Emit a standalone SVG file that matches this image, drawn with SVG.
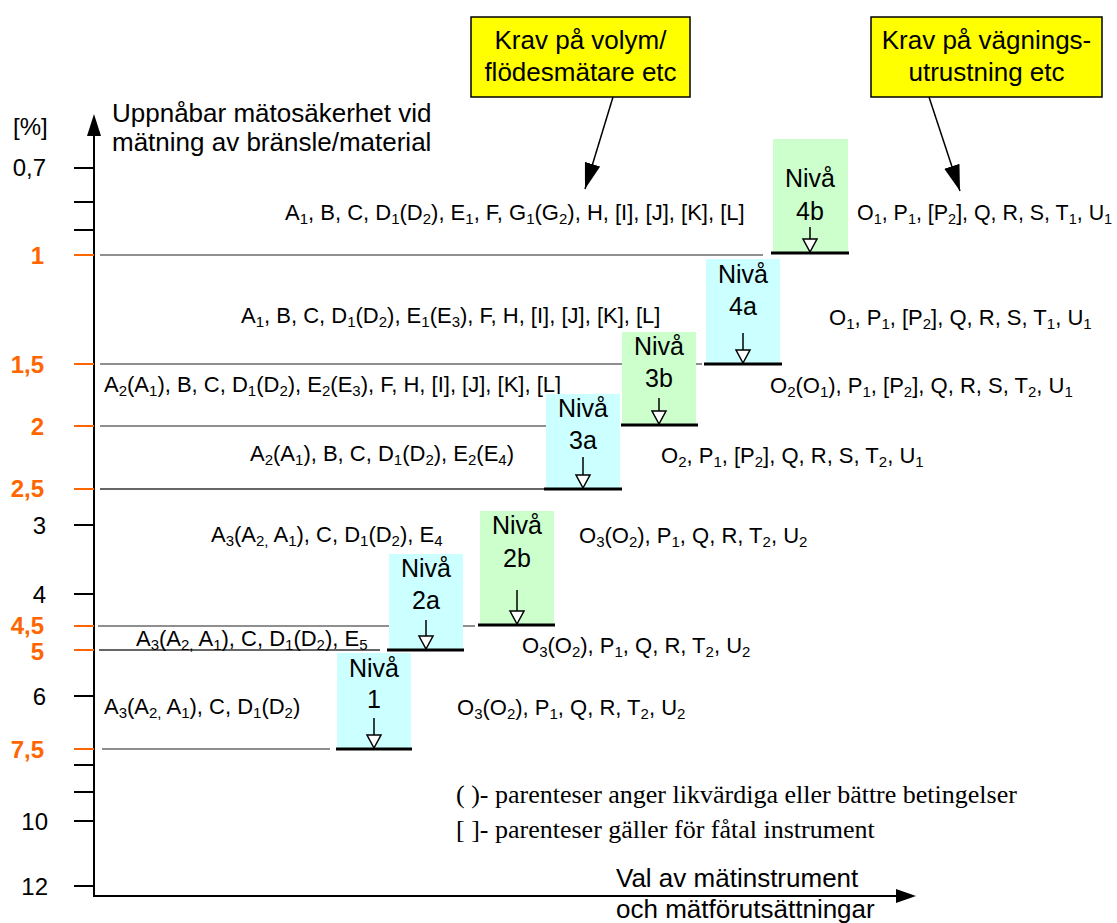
<svg xmlns="http://www.w3.org/2000/svg" width="1117" height="923" viewBox="0 0 1117 923">
<defs>
<style>
text{font-family:"Liberation Sans",Arial,sans-serif;fill:#000}
.t{font-size:26px}
.lbl{font-size:24px;text-anchor:end}
.or{fill:#FF6600;font-weight:bold}
.row{font-size:22px}
.s{font-size:15px;baseline-shift:-4px}
.niv{font-size:25px;text-anchor:middle}
.yb{font-size:26px;text-anchor:middle}
.leg{font-family:"Liberation Serif","Times New Roman",serif;font-size:26px}
.lvl{stroke:#6a6a6a;stroke-width:1.5}
.lvlk{stroke:#333;stroke-width:1.5}
.thick{stroke:#000;stroke-width:3}
.tick{stroke:#000;stroke-width:2}
.otick{stroke:#FF6600;stroke-width:2}
.cy{fill:#CCFFFF}
.gr{fill:#CCFFCC}
.ar{stroke:#000;stroke-width:1.5}
.tri{fill:#fff;stroke:#000;stroke-width:1.5}
.yel{fill:#FFFF00;stroke:#000;stroke-width:1.5}
</style>
<marker id="bh" markerWidth="26" markerHeight="16" refX="26" refY="8" orient="auto" markerUnits="userSpaceOnUse" viewBox="0 0 26 16">
<path d="M0,0 L26,8 L0,16 Z" fill="#000"/>
</marker>
</defs>
<rect width="1117" height="923" fill="#fff"/>

<g id="axes">
<line x1="94" y1="896" x2="94" y2="134" stroke="#000" stroke-width="2"/>
<path d="M94,114 L101,136 L87,136 Z" fill="#000"/>
<line x1="93" y1="896" x2="897" y2="896" stroke="#000" stroke-width="2"/>
<path d="M916,896 L896,889 L896,903 Z" fill="#000"/>
<line class="tick" x1="74" y1="168" x2="94" y2="168"/>
<line class="tick" x1="74" y1="202" x2="94" y2="202"/>
<line class="tick" x1="74" y1="230" x2="94" y2="230"/>
<line class="otick" x1="74" y1="255" x2="94" y2="255"/>
<line class="otick" x1="74" y1="364" x2="94" y2="364"/>
<line class="otick" x1="74" y1="426" x2="94" y2="426"/>
<line class="otick" x1="74" y1="489" x2="94" y2="489"/>
<line class="tick" x1="74" y1="525" x2="94" y2="525"/>
<line class="tick" x1="74" y1="594" x2="94" y2="594"/>
<line class="otick" x1="74" y1="626" x2="94" y2="626"/>
<line class="otick" x1="74" y1="650" x2="94" y2="650"/>
<line class="tick" x1="74" y1="696" x2="94" y2="696"/>
<line class="otick" x1="74" y1="749" x2="94" y2="749"/>
<line class="tick" x1="74" y1="765" x2="94" y2="765"/>
<line class="tick" x1="74" y1="792" x2="94" y2="792"/>
<line class="tick" x1="74" y1="821" x2="94" y2="821"/>
<line class="tick" x1="74" y1="886" x2="94" y2="886"/>
<text x="13" y="135" font-size="24px">[%]</text>
<text class="lbl" x="46" y="176">0,7</text>
<text class="lbl or" x="44" y="264">1</text>
<text class="lbl or" x="44" y="373">1,5</text>
<text class="lbl or" x="44" y="435">2</text>
<text class="lbl or" x="44" y="497">2,5</text>
<text class="lbl" x="46" y="534">3</text>
<text class="lbl" x="46" y="603">4</text>
<text class="lbl or" x="44" y="634">4,5</text>
<text class="lbl or" x="44" y="660">5</text>
<text class="lbl" x="46" y="705">6</text>
<text class="lbl or" x="44" y="758">7,5</text>
<text class="lbl" x="48" y="830">10</text>
<text class="lbl" x="48" y="895">12</text>
<text class="t" x="112" y="122">Uppnåbar mätosäkerhet vid</text>
<text class="t" x="112" y="151">mätning av bränsle/material</text>
<text class="t" x="616" y="887">Val av mätinstrument</text>
<text class="t" x="616" y="918">och mätförutsättningar</text>
</g>

<g id="levels">
<line class="lvl" x1="100" y1="255" x2="763" y2="255"/>
<line class="lvl" x1="100" y1="364" x2="702" y2="364"/>
<line class="lvl" x1="100" y1="426" x2="546" y2="426"/>
<line class="lvlk" x1="100" y1="489" x2="544" y2="489"/>
<line class="lvl" x1="98" y1="626" x2="475" y2="626"/>
<line class="lvlk" x1="99" y1="650" x2="380" y2="650"/>
<line class="lvl" x1="102" y1="749" x2="330" y2="749"/>
</g>

<g id="rows">
<text class="row" x="285" y="220">A<tspan class="s">1</tspan>, B, C, D<tspan class="s">1</tspan>(D<tspan class="s">2</tspan>), E<tspan class="s">1</tspan>, F, G<tspan class="s">1</tspan>(G<tspan class="s">2</tspan>), H, [I], [J], [K], [L]</text>
<text class="row" x="857" y="220" style="font-size:21.4px">O<tspan class="s" style="font-size:14.5px">1</tspan>, P<tspan class="s" style="font-size:14.5px">1</tspan>, [P<tspan class="s" style="font-size:14.5px">2</tspan>], Q, R, S, T<tspan class="s" style="font-size:14.5px">1</tspan>, U<tspan class="s" style="font-size:14.5px">1</tspan></text>
<text class="row" x="241" y="323">A<tspan class="s">1</tspan>, B, C, D<tspan class="s">1</tspan>(D<tspan class="s">2</tspan>), E<tspan class="s">1</tspan>(E<tspan class="s">3</tspan>), F, H, [I], [J], [K], [L]</text>
<text class="row" x="829" y="325">O<tspan class="s">1</tspan>, P<tspan class="s">1</tspan>, [P<tspan class="s">2</tspan>], Q, R, S, T<tspan class="s">1</tspan>, U<tspan class="s">1</tspan></text>
<text class="row" x="104" y="392">A<tspan class="s">2</tspan>(A<tspan class="s">1</tspan>), B, C, D<tspan class="s">1</tspan>(D<tspan class="s">2</tspan>), E<tspan class="s">2</tspan>(E<tspan class="s">3</tspan>), F, H, [I], [J], [K], [L]</text>
<text class="row" x="770" y="393">O<tspan class="s">2</tspan>(O<tspan class="s">1</tspan>), P<tspan class="s">1</tspan>, [P<tspan class="s">2</tspan>], Q, R, S, T<tspan class="s">2</tspan>, U<tspan class="s">1</tspan></text>
<text class="row" x="250" y="461">A<tspan class="s">2</tspan>(A<tspan class="s">1</tspan>), B, C, D<tspan class="s">1</tspan>(D<tspan class="s">2</tspan>), E<tspan class="s">2</tspan>(E<tspan class="s">4</tspan>)</text>
<text class="row" x="661" y="463">O<tspan class="s">2</tspan>, P<tspan class="s">1</tspan>, [P<tspan class="s">2</tspan>], Q, R, S, T<tspan class="s">2</tspan>, U<tspan class="s">1</tspan></text>
<text class="row" x="211" y="542">A<tspan class="s">3</tspan>(A<tspan class="s">2,</tspan> A<tspan class="s">1</tspan>), C, D<tspan class="s">1</tspan>(D<tspan class="s">2</tspan>), E<tspan class="s">4</tspan></text>
<text class="row" x="579" y="543">O<tspan class="s">3</tspan>(O<tspan class="s">2</tspan>), P<tspan class="s">1</tspan>, Q, R, T<tspan class="s">2</tspan>, U<tspan class="s">2</tspan></text>
<text class="row" x="136" y="646">A<tspan class="s">3</tspan>(A<tspan class="s">2,</tspan> A<tspan class="s">1</tspan>), C, D<tspan class="s">1</tspan>(D<tspan class="s">2</tspan>), E<tspan class="s">5</tspan></text>
<text class="row" x="522" y="653">O<tspan class="s">3</tspan>(O<tspan class="s">2</tspan>), P<tspan class="s">1</tspan>, Q, R, T<tspan class="s">2</tspan>, U<tspan class="s">2</tspan></text>
<text class="row" x="104" y="714">A<tspan class="s">3</tspan>(A<tspan class="s">2,</tspan> A<tspan class="s">1</tspan>), C, D<tspan class="s">1</tspan>(D<tspan class="s">2</tspan>)</text>
<text class="row" x="457" y="715">O<tspan class="s">3</tspan>(O<tspan class="s">2</tspan>), P<tspan class="s">1</tspan>, Q, R, T<tspan class="s">2</tspan>, U<tspan class="s">2</tspan></text>
</g>

<g id="niva4b">
<rect class="gr" x="773" y="139" width="75" height="114"/>
<text class="niv" x="810" y="187">Nivå</text>
<text class="niv" x="810" y="220">4b</text>
<line class="ar" x1="810" y1="227" x2="810" y2="239"/>
<path class="tri" d="M803,239 L817,239 L810,252 Z"/>
<line class="thick" x1="771" y1="253" x2="849" y2="253"/>
</g>
<g id="niva4a">
<rect class="cy" x="706" y="259" width="74" height="105"/>
<text class="niv" x="743" y="283">Nivå</text>
<text class="niv" x="743" y="315">4a</text>
<line class="ar" x1="743" y1="333" x2="743" y2="350"/>
<path class="tri" d="M736,350 L750,350 L743,363 Z"/>
<line class="thick" x1="704" y1="364" x2="782" y2="364"/>
</g>
<g id="niva3b">
<rect class="gr" x="622" y="332" width="74" height="93"/>
<text class="niv" x="659" y="355">Nivå</text>
<text class="niv" x="659" y="387">3b</text>
<line class="ar" x1="659" y1="398" x2="659" y2="411"/>
<path class="tri" d="M652,411 L666,411 L659,424 Z"/>
<line class="thick" x1="621" y1="425" x2="698" y2="425"/>
</g>
<g id="niva3a">
<rect class="cy" x="546" y="394" width="74" height="95"/>
<text class="niv" x="583" y="417">Nivå</text>
<text class="niv" x="583" y="449">3a</text>
<line class="ar" x1="583" y1="457" x2="583" y2="475"/>
<path class="tri" d="M576,475 L590,475 L583,488 Z"/>
<line class="thick" x1="544" y1="489" x2="622" y2="489"/>
</g>
<g id="niva2b">
<rect class="gr" x="480" y="511" width="74" height="114"/>
<text class="niv" x="517" y="534">Nivå</text>
<text class="niv" x="517" y="567">2b</text>
<line class="ar" x1="517" y1="590" x2="517" y2="611"/>
<path class="tri" d="M510,611 L524,611 L517,624 Z"/>
<line class="thick" x1="478" y1="625" x2="555" y2="625"/>
</g>
<g id="niva2a">
<rect class="cy" x="389" y="554" width="74" height="96"/>
<text class="niv" x="426" y="577">Nivå</text>
<text class="niv" x="426" y="609">2a</text>
<line class="ar" x1="426" y1="620" x2="426" y2="636"/>
<path class="tri" d="M419,636 L433,636 L426,649 Z"/>
<line class="thick" x1="387" y1="650" x2="464" y2="650"/>
</g>
<g id="niva1">
<rect class="cy" x="337" y="653" width="74" height="96"/>
<text class="niv" x="374" y="677">Nivå</text>
<text class="niv" x="374" y="708">1</text>
<line class="ar" x1="374" y1="718" x2="374" y2="735"/>
<path class="tri" d="M367,735 L381,735 L374,748 Z"/>
<line class="thick" x1="336" y1="749" x2="412" y2="749"/>
</g>

<g id="krav-volym">
<rect class="yel" x="471" y="17" width="219" height="80"/>
<text class="yb" x="580.5" y="49">Krav på volym/</text>
<text class="yb" x="580.5" y="81">flödesmätare etc</text>
</g>
<g id="krav-vagning">
<rect class="yel" x="871" y="17" width="231" height="80"/>
<text class="yb" x="986.5" y="49">Krav på vägnings-</text>
<text class="yb" x="986.5" y="81">utrustning etc</text>
</g>

<g id="connectors">
<line x1="613" y1="97" x2="585" y2="189" stroke="#000" stroke-width="1.5" marker-end="url(#bh)"/>
<line x1="929" y1="97" x2="960" y2="191" stroke="#000" stroke-width="1.5" marker-end="url(#bh)"/>
</g>

<g id="legend">
<text class="leg" x="456" y="803">( )- parenteser anger likvärdiga eller bättre betingelser</text>
<text class="leg" x="456" y="838">[ ]- parenteser gäller för fåtal instrument</text>
</g>
</svg>
